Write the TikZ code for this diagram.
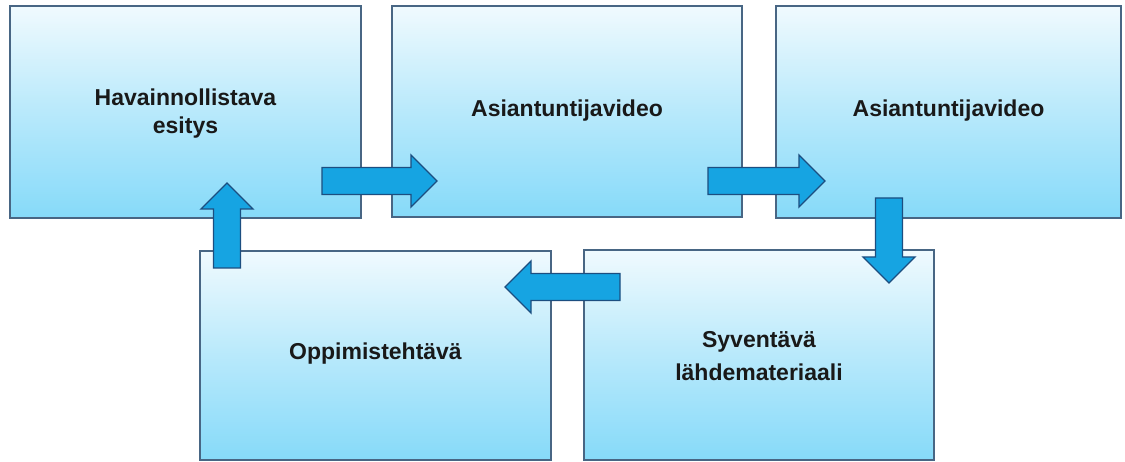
\documentclass[tikz,border=0pt]{standalone}
\usepackage{fontspec}
\setmainfont{Liberation Sans}
\begin{document}
\begin{tikzpicture}[x=1pt,y=-1pt,
  box/.style={draw=boxline, line width=1.3pt, inner sep=0pt, align=center,
    top color=boxtop, bottom color=boxbot, middle color=boxmid},
  lbl/.style={align=center, inner sep=0pt, text=black!90,
    font=\fontsize{23}{28}\selectfont\bfseries},
  arrowbody/.style={draw=arrline, line width=1.3pt, fill=arrfill, line join=miter},
  pics/barrow/.style={code={
    \draw[arrowbody] (0,-13.5) -- ({#1-26},-13.5) -- ({#1-26},-26) -- (#1,0)
      -- ({#1-26},26) -- ({#1-26},13.5) -- (0,13.5) -- cycle;}}
]
\definecolor{boxline}{RGB}{72,102,132}
\definecolor{boxtop}{RGB}{240,250,254}
\definecolor{boxmid}{RGB}{184,233,251}
\definecolor{boxbot}{RGB}{134,218,249}
\definecolor{arrline}{RGB}{28,78,128}
\definecolor{arrfill}{RGB}{22,164,226}
\useasboundingbox (0,0) rectangle (1125,462);
\fill[white] (0,0) rectangle (1125,462);

\node[box, minimum width=351pt, minimum height=212pt] (b1) at (185.5,112) {};
\node[lbl] (t1) at (185.5,114) {Havainnollistava\\esitys};
\node[box, minimum width=350pt, minimum height=211pt] (b2) at (567,111.5) {};
\node[lbl] (t2) at (567,111) {Asiantuntijavideo};
\node[box, minimum width=345pt, minimum height=212pt] (b3) at (948.5,112) {};
\node[lbl] (t3) at (948.5,111) {Asiantuntijavideo};
\node[box, minimum width=351pt, minimum height=209pt] (b4) at (375.5,355.5) {};
\node[lbl] (t4) at (375.5,354) {Oppimistehtävä};
\node[box, minimum width=350pt, minimum height=210pt] (b5) at (759,355) {};
\node[lbl, font=\fontsize{23}{33}\selectfont\bfseries] (t5) at (759,356) {Syventävä\\lähdemateriaali};

\coordinate (a1) at (322,181);
\coordinate (a2) at (708,181);
\coordinate (a3) at (889,198);
\coordinate (a4) at (620,287);
\coordinate (a5) at (227,268);
\pic at (a1) {barrow=115};
\pic at (a2) {barrow=117};
\pic[rotate=-90] at (a3) {barrow=85};
\pic[rotate=180] at (a4) {barrow=115};
\pic[rotate=90] at (a5) {barrow=85};
\end{tikzpicture}
\end{document}
